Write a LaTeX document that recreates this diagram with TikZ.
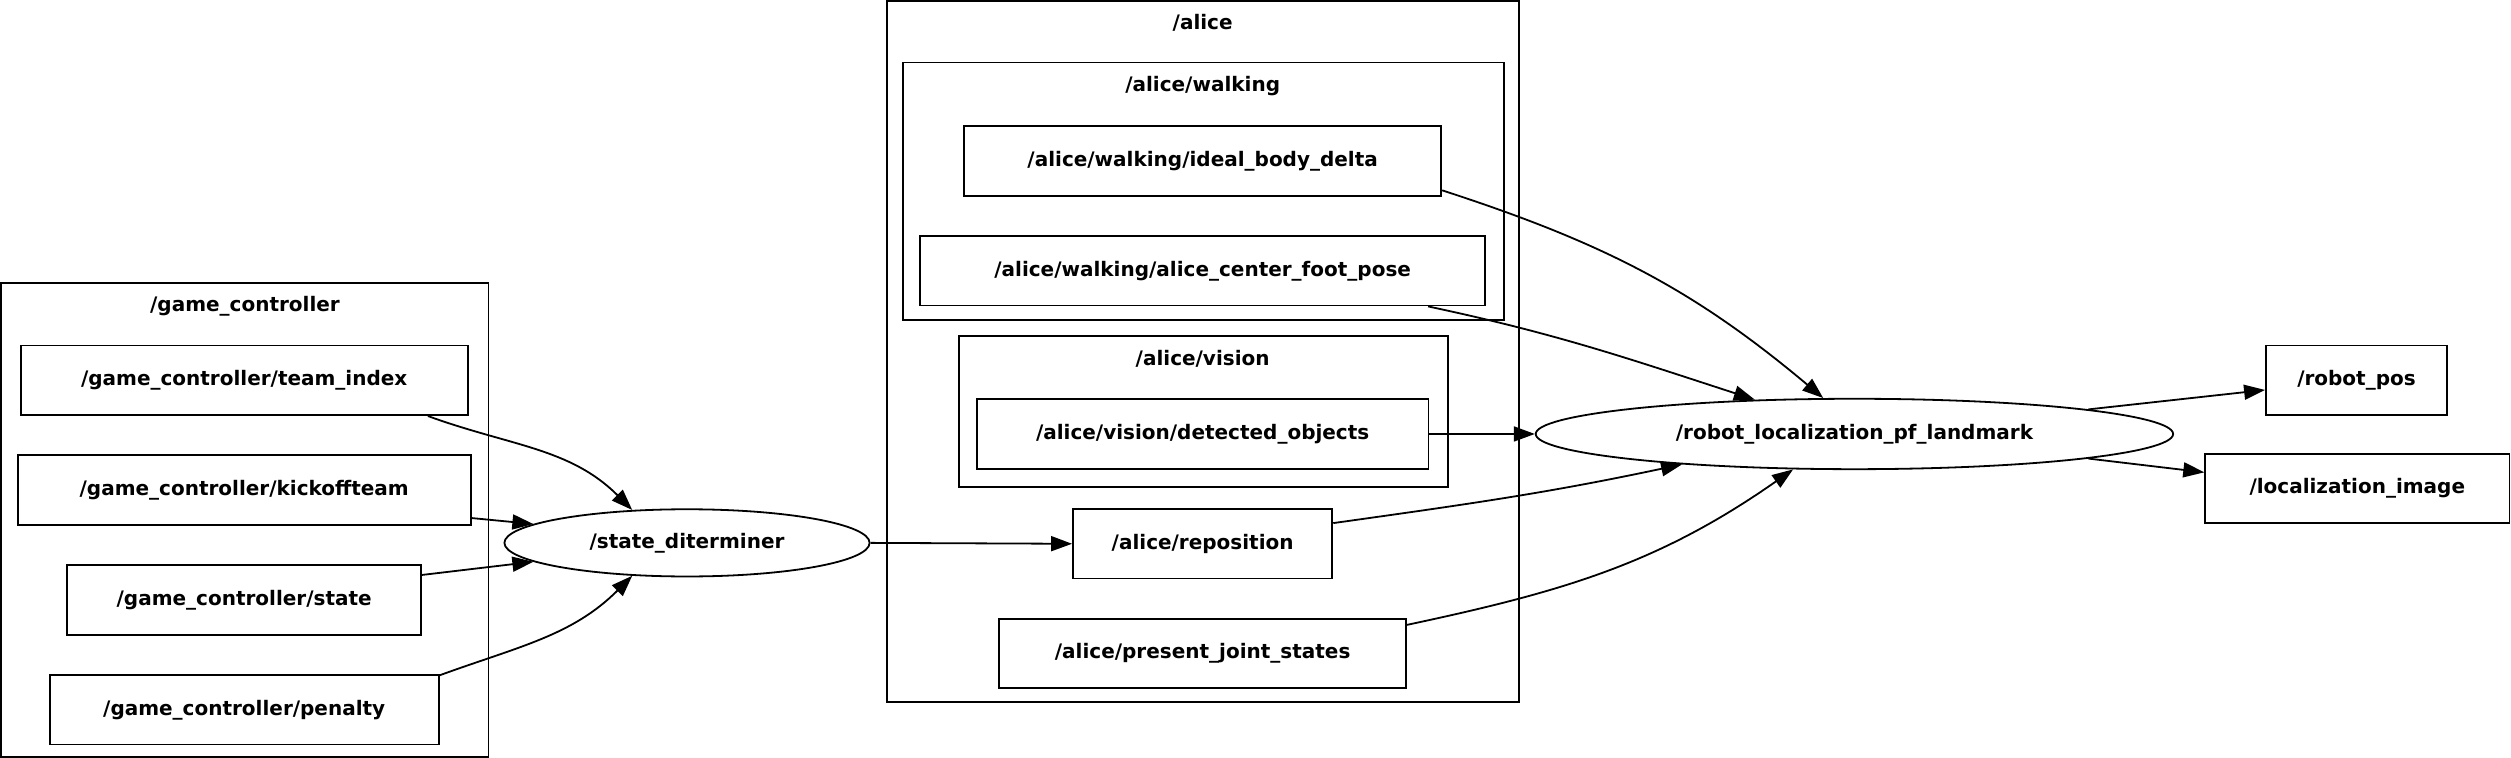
\documentclass[tikz,border=0pt]{standalone}
\usepackage{fontspec}
\setmainfont{DejaVu Sans}
\usetikzlibrary{arrows.meta,positioning,shapes.geometric}
\newcommand{\gfont}{\fontsize{10}{12}\selectfont\bfseries}

\begin{document}
\begin{tikzpicture}[
   x=0.8007pt, y=0.8007pt,
   node distance=19.2pt,
   topic/.style={draw, line width=0.9pt, minimum height=34.8pt, inner sep=0pt,
      font=\gfont, text height=0.75em, text depth=0.22em},
   rosnode/.style={draw, ellipse, line width=0.9pt, inner sep=0pt, font=\gfont,
      text height=0.75em, text depth=0.22em},
   cluster/.style={draw, line width=0.9pt},
   clab/.style={inner sep=1pt, font=\gfont, text height=0.75em, text depth=0.22em},
   arrow/.style={-{Triangle[length=10.5pt, width=7.5pt]}, line width=0.9pt}
]
\useasboundingbox (0,0) rectangle (1568,473);

% clusters
\draw[cluster] (0.5,0.5) rectangle (305,296.5);
\draw[cluster] (554,34.5) rectangle (948.5,472.5);
\draw[cluster] (564,273) rectangle (939,434);
\draw[cluster] (599,169) rectangle (904,263);
\node[clab] (Lgc) at (153,282) {/game\_controller};
\node[clab] (Lalice) at (751,458) {/alice};
\node[clab] (Lwalk) at (751,419) {/alice/walking};
\node[clab] (Lvis) at (751,248) {/alice/vision};

% game controller topics
\node[topic, minimum width=223.4pt] (Tteam) at (152.5,235.5)
   {/game\_controller/team\_index};
\node[topic, minimum width=226.6pt, below=of Tteam] (Tkick)
   {/game\_controller/kickoffteam};
\node[topic, minimum width=177pt, below=of Tkick] (Tstate)
   {/game\_controller/state};
\node[topic, minimum width=194.6pt, below=of Tstate] (Tpen)
   {/game\_controller/penalty};
\node[rosnode, minimum width=182.6pt, minimum height=33.6pt] (Nstate)
   at (429,134) {/state\_diterminer};

% alice topics
\node[topic, minimum width=238.6pt] (Tdelta) at (751,372.5)
   {/alice/walking/ideal\_body\_delta};
\node[topic, minimum width=282.6pt, below=of Tdelta] (Tfoot)
   {/alice/walking/alice\_center\_foot\_pose};
\node[topic, minimum width=225.8pt] (Tobj) at (751,202)
   {/alice/vision/detected\_objects};
\node[topic, minimum width=129.7pt, below=of Tobj] (Trepo)
   {/alice/reposition};
\node[topic, minimum width=203.4pt, below=of Trepo] (Tjoint)
   {/alice/present\_joint\_states};

% localization
\node[rosnode, minimum width=318.7pt, minimum height=35.2pt] (Nloc)
   at (1158,202) {/robot\_localization\_pf\_landmark};
\node[topic, minimum width=90.5pt] (Trpos) at (1471.5,235.5) {/robot\_pos};
\node[topic, minimum width=152.1pt] (Timg) at (1472,168) {/localization\_image};

\draw[arrow] (Tteam.-11) to[out=-20, in=135] (Nstate.149);
\draw[arrow] (Tkick.-7) -- (Nstate.173);
\draw[arrow] (Tstate.8) -- (Nstate.187);
\draw[arrow] (Tpen.10.5) to[out=20, in=-135] (Nstate.211);
\draw[arrow] (Nstate.east) -- (Trepo.west);
\draw[arrow] (Tdelta.-7) to[out=-18, in=140] (Nloc.131);
\draw[arrow] (Tfoot.-9.5) to[out=-12, in=162] (Nloc.161);
\draw[arrow] (Tobj.east) -- (Nloc.west);
\draw[arrow] (Trepo.9) to[out=8, in=-168] (Nloc.190);
\draw[arrow] (Tjoint.8) to[out=12, in=-145] (Nloc.-150);
\draw[arrow] (Nloc.6) -- (Trpos.186);
\draw[arrow] (Nloc.-6) -- (Timg.174);
\end{tikzpicture}
\end{document}
